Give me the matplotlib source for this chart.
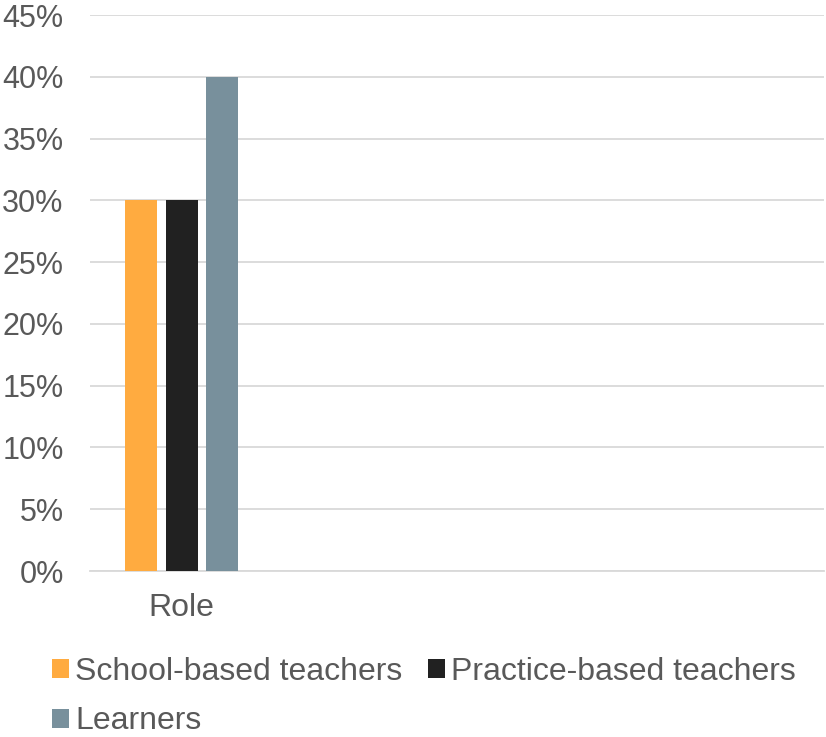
import matplotlib.pyplot as plt
from matplotlib.ticker import PercentFormatter

plt.rcParams['font.family'] = ['Liberation Sans', 'DejaVu Sans']

# share of respondents by role
categories = ["Role"]
series = ["School-based teachers", "Practice-based teachers", "Learners"]
values = [30, 30, 40]
colors = ["#FFAB40", "#212121", "#78909C"]

fig = plt.figure(figsize=(8.26, 7.37), dpi=100)
ax = fig.add_axes([0.109, 0.2252, 0.8886, 0.7544])

width = 0.174
offsets = [-0.22, 0.0, 0.22]
bars = []
for name, val, col, off in zip(series, values, colors, offsets):
    b = ax.bar([i + off for i in range(len(categories))], [val], width=width,
               color=col, label=name, zorder=3)
    bars.append(b)

# room for four category slots, only the first one is filled
ax.set_xlim(-0.5, 3.5)
ax.set_ylim(0, 45)
ax.set_yticks(range(0, 46, 5))
ax.yaxis.set_major_formatter(PercentFormatter(decimals=0))
ax.set_xticks(range(len(categories)))
ax.set_xticklabels(categories)

ax.grid(axis='y', color='#D9D9D9', linewidth=1.3, zorder=0)
for s in ['top', 'right', 'left']:
    ax.spines[s].set_visible(False)
ax.spines['bottom'].set_color('#D9D9D9')
ax.spines['bottom'].set_linewidth(1.3)
ax.tick_params(axis='both', length=0, labelcolor='#595959')
ax.tick_params(axis='y', pad=19, labelsize=22)
ax.tick_params(axis='x', pad=16, labelsize=23)

# legend filled row by row
order = [0, 2, 1]
ax.legend([bars[i] for i in order], [series[i] for i in order], ncol=2,
          loc='upper left', bbox_to_anchor=(0.063, 0.109), bbox_transform=fig.transFigure,
          frameon=False, fontsize=23, labelcolor='#595959',
          handlelength=0.53, handleheight=0.53, handletextpad=0.2,
          columnspacing=0.8, labelspacing=0.62, borderpad=0, borderaxespad=0)

fig.savefig("out.png", dpi=100)
